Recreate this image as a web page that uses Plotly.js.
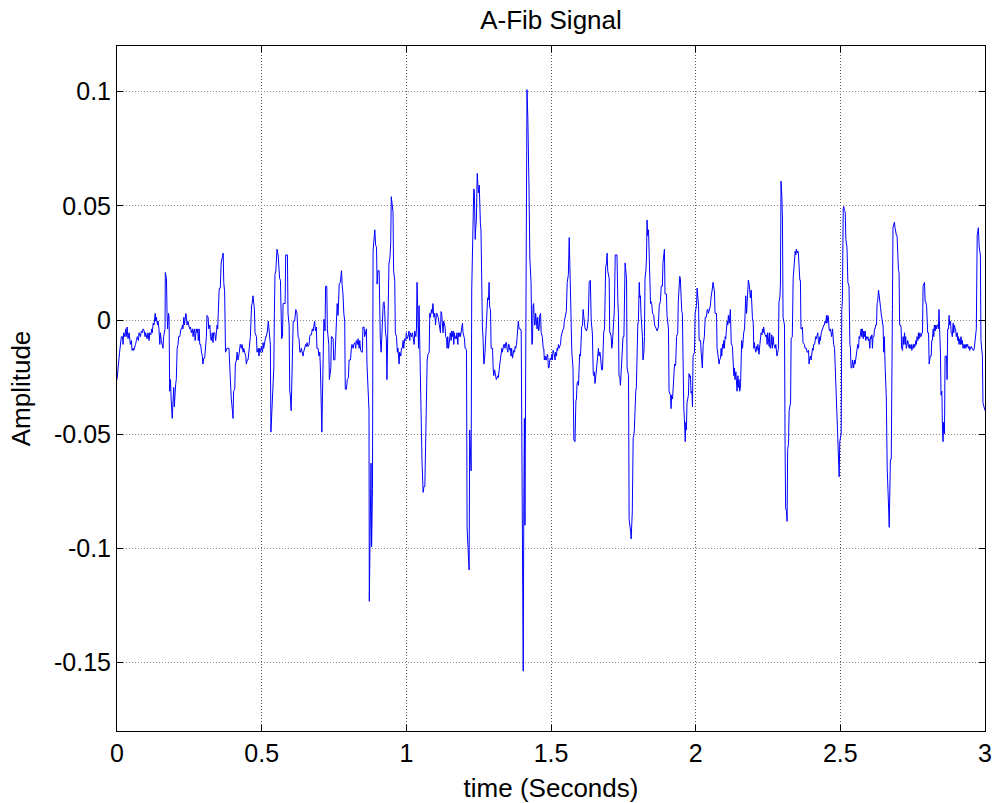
<!DOCTYPE html>
<html>
<head>
<meta charset="utf-8">
<script src="https://cdn.plot.ly/plotly-3.0.1.min.js"></script>
<style>html,body{margin:0;padding:0;background:#fff;}#chart{width:997px;height:803px;}</style>
</head>
<body>
<div id="chart"></div>
<script>
// Time samples (seconds)
const timeSec = [
0.000,0.007,0.009,0.015,0.019,0.021,0.023,0.027,0.030,0.032,0.035,0.038,0.042,0.046,0.050,0.052,0.056,0.058,0.061,0.064,
0.067,0.070,0.074,0.076,0.081,0.084,0.088,0.090,0.094,0.097,0.099,0.104,0.107,0.111,0.113,0.117,0.120,0.122,0.125,0.128,
0.132,0.134,0.136,0.140,0.142,0.145,0.148,0.150,0.153,0.157,0.159,0.161,0.164,0.166,0.167,0.171,0.173,0.175,0.178,0.180,
0.182,0.185,0.187,0.189,0.191,0.194,0.196,0.198,0.201,0.203,0.205,0.208,0.211,0.213,0.217,0.219,0.221,0.224,0.226,0.228,
0.231,0.233,0.235,0.238,0.240,0.242,0.245,0.247,0.249,0.251,0.254,0.257,0.261,0.263,0.265,0.268,0.270,0.272,0.274,0.277,
0.279,0.281,0.284,0.286,0.289,0.292,0.295,0.297,0.300,0.303,0.306,0.309,0.311,0.315,0.317,0.321,0.323,0.326,0.329,0.332,
0.334,0.338,0.341,0.344,0.346,0.348,0.350,0.353,0.355,0.357,0.360,0.362,
0.367,0.369,0.372,0.375,0.378,0.380,0.384,0.387,0.390,0.392,0.395,0.399,0.401,0.403,0.407,0.409,0.413,0.415,0.418,0.421,
0.424,0.426,0.430,0.432,0.436,0.438,0.441,0.445,0.447,0.450,0.453,0.456,0.459,0.461,0.465,0.467,0.470,0.473,0.475,0.477,
0.479,0.482,0.484,0.488,0.491,0.493,0.496,0.499,0.503,0.505,0.507,0.511,0.514,0.516,0.520,0.523,0.526,0.528,0.530,0.532,
0.535,0.537,0.539,0.542,0.544,0.546,0.549,0.551,0.553,0.557,0.560,0.562,0.565,0.567,0.569,0.572,0.574,0.577,0.581,0.583,
0.585,0.589,0.591,0.595,0.597,0.599,0.602,0.604,0.606,0.609,0.611,0.614,0.618,0.620,0.622,0.626,0.629,0.632,0.634,0.637,
0.641,0.643,0.645,0.649,0.652,0.655,0.657,0.660,0.664,0.666,0.668,0.672,0.675,0.678,0.680,0.683,0.686,0.689,0.691,0.695,
0.698,0.701,0.703,0.705,0.708,0.710,0.712,0.715,0.717,0.719,0.721,0.725,0.727,0.730,0.732,0.734,0.736,0.739,0.741,0.743,
0.747,0.749,
0.753,0.755,0.758,0.761,0.764,0.768,0.772,0.776,0.778,0.781,0.784,0.787,0.789,0.793,0.796,0.800,0.802,0.807,0.810,0.812,
0.816,0.818,0.822,0.825,0.827,0.831,0.833,0.837,0.839,0.842,0.846,0.848,0.850,0.854,0.856,0.859,0.862,0.864,0.868,0.871,
0.872,0.876,0.878,0.880,0.883,0.885,0.887,0.891,0.894,0.897,0.899,0.902,0.906,0.908,0.910,0.913,0.915,0.917,0.920,0.923,
0.925,0.928,0.931,0.933,0.936,0.938,0.940,0.943,0.946,0.948,0.952,0.954,0.956,0.960,0.962,0.966,0.969,0.971,0.975,0.977,
0.981,0.983,0.986,0.989,0.991,0.994,0.998,1.000,1.003,1.006,1.009,1.012,1.014,1.018,1.021,1.023,1.027,1.029,1.033,1.035,
1.037,1.039,1.042,1.044,1.046,1.049,1.051,1.054,1.058,1.061,1.064,1.066,1.069,1.072,1.075,1.079,1.081,1.083,1.087,1.089,
1.092,1.095,1.098,1.101,1.104,1.106,1.110,1.112,1.115,1.118,1.120,1.122,1.125,1.127,1.129,
1.134,1.136,1.139,1.141,1.143,1.146,1.148,1.150,1.152,1.155,1.157,1.159,1.162,1.164,1.166,1.169,1.171,1.173,1.175,1.178,
1.180,1.182,1.185,1.187,1.189,1.192,1.194,1.196,1.199,1.201,1.203,1.205,1.208,1.210,1.213,1.217,1.219,1.222,1.224,1.226,
1.228,1.231,1.233,1.235,1.238,1.240,1.242,1.245,1.247,1.249,1.252,1.254,1.256,1.258,1.261,1.263,1.265,1.268,1.270,1.272,
1.275,1.277,1.279,1.281,1.284,1.286,1.288,1.291,1.293,1.295,1.298,1.300,1.302,1.305,1.307,1.309,1.311,1.314,1.316,1.318,
1.321,1.323,1.325,1.328,1.330,1.332,1.334,1.337,1.339,1.341,1.344,1.346,1.348,1.351,1.353,1.355,1.358,1.360,1.362,1.364,
1.367,1.369,1.371,1.374,1.376,1.378,1.381,1.383,1.385,1.387,1.390,1.392,1.394,1.397,1.399,1.401,1.404,1.406,1.408,1.410,
1.413,1.415,1.417,1.420,1.422,1.424,1.427,1.429,1.431,1.434,1.436,1.438,1.440,1.443,1.445,1.447,1.450,1.452,1.454,1.457,
1.459,1.461,1.464,1.466,1.468,1.470,1.473,1.475,1.477,1.480,1.482,1.484,1.487,1.489,1.491,1.493,1.496,1.498,1.500,1.503,
1.505,1.507,1.510,
1.514,1.516,1.519,1.521,1.523,1.526,1.528,1.530,1.533,1.535,1.537,1.540,1.542,1.544,1.546,1.549,1.551,1.553,1.556,1.558,
1.560,1.563,1.565,1.567,1.569,1.572,1.574,1.576,1.579,1.581,1.583,1.586,1.588,1.590,1.593,1.595,1.597,1.599,1.602,1.604,
1.606,1.609,1.611,1.613,1.616,1.618,1.620,1.622,1.625,1.627,1.629,1.632,1.634,1.636,1.639,1.641,1.643,1.646,1.648,1.650,
1.652,1.655,1.657,1.659,1.662,1.664,1.666,1.669,1.671,1.673,1.675,1.678,1.680,1.682,1.685,1.687,1.689,1.692,1.694,1.696,
1.699,1.701,1.703,1.705,1.708,1.710,1.712,1.715,1.717,1.719,1.722,1.724,1.726,1.728,1.731,1.733,1.735,1.738,1.740,1.742,
1.745,1.747,1.749,1.752,1.754,1.756,1.758,1.761,1.763,1.765,1.768,1.770,1.772,1.775,1.777,1.779,1.781,1.784,1.786,1.788,
1.791,1.793,1.795,1.798,1.800,1.802,1.805,1.807,1.809,1.811,1.814,1.816,1.818,1.821,1.823,1.825,1.828,1.830,1.832,1.834,
1.837,1.839,1.841,1.844,1.846,1.848,1.851,1.853,1.855,1.858,1.860,1.862,1.864,1.867,1.869,1.871,1.874,1.876,1.878,1.881,
1.883,1.885,1.887,1.890,
1.892,1.894,1.897,1.899,1.901,1.904,1.906,1.908,1.910,1.913,1.915,1.917,1.920,1.922,1.924,1.927,1.929,1.931,1.934,1.936,
1.938,1.940,1.943,1.945,1.947,1.950,1.952,1.954,1.957,1.959,1.961,1.964,1.966,1.968,1.970,1.973,1.975,1.977,1.980,1.982,
1.984,1.987,1.989,1.991,1.993,1.996,1.998,2.000,2.003,2.005,2.007,2.010,2.012,2.014,2.017,2.019,2.021,2.023,2.026,2.028,
2.030,2.033,2.035,2.037,2.040,2.042,2.044,2.046,2.049,2.051,2.053,2.056,2.058,2.060,2.063,2.065,2.067,2.070,2.072,2.074,
2.076,2.079,2.081,2.083,2.086,2.088,2.090,2.093,2.095,2.097,2.099,2.102,2.104,2.106,2.109,2.111,2.113,2.116,2.118,2.120,
2.123,2.125,2.127,2.129,2.132,2.134,2.136,2.139,2.141,2.143,2.146,2.148,2.150,2.152,2.155,2.157,2.159,2.162,2.164,2.166,
2.169,2.171,2.173,2.176,2.178,2.180,2.182,2.185,2.187,2.189,2.192,2.194,2.196,2.199,2.201,2.203,2.205,2.208,2.210,2.212,
2.215,2.217,2.219,2.222,2.224,2.226,2.229,2.231,2.233,2.235,2.238,2.240,2.242,2.245,2.247,2.249,2.252,2.254,2.256,2.258,
2.261,2.263,2.265,2.268,2.270,
2.275,2.277,2.279,2.281,2.284,2.286,2.288,2.291,2.293,2.295,2.298,2.300,2.302,2.305,2.307,2.309,2.311,2.314,2.316,2.318,
2.321,2.323,2.325,2.328,2.330,2.332,2.334,2.337,2.339,2.341,2.344,2.346,2.348,2.351,2.353,2.355,2.358,2.360,2.362,2.364,
2.367,2.369,2.371,2.374,2.376,2.378,2.381,2.383,2.385,2.387,2.390,2.392,2.394,2.397,2.399,2.401,2.404,2.406,2.408,2.411,
2.413,2.415,2.417,2.420,2.422,2.424,2.427,2.429,2.431,2.434,2.436,2.438,2.440,2.443,2.445,2.447,2.450,2.452,2.454,2.457,
2.459,2.461,2.464,2.466,2.468,2.470,2.473,2.475,2.477,2.480,2.482,2.484,2.487,2.489,2.491,2.493,2.496,2.498,2.500,2.503,
2.505,2.507,2.510,2.512,2.514,2.517,2.519,2.521,2.523,2.526,2.528,2.530,2.533,2.535,2.537,2.540,2.542,2.544,2.546,2.549,
2.551,2.553,2.556,2.558,2.560,2.563,2.565,2.567,2.570,2.572,2.574,2.576,2.579,2.581,2.583,2.586,2.588,2.590,2.593,2.595,
2.597,2.599,2.602,2.604,2.606,2.609,2.611,2.613,2.616,2.618,2.620,2.622,2.625,2.627,2.629,2.632,2.634,2.636,2.639,2.641,
2.643,2.646,2.648,2.650,
2.652,2.655,2.657,2.659,2.662,2.664,2.666,2.669,2.671,2.673,2.676,2.678,2.680,2.682,2.685,2.687,2.689,2.692,2.694,2.696,
2.699,2.701,2.703,2.705,2.708,2.710,2.712,2.715,2.717,2.719,2.722,2.724,2.726,2.728,2.731,2.733,2.735,2.738,2.740,2.742,
2.745,2.747,2.749,2.752,2.754,2.756,2.758,2.761,2.763,2.765,2.768,2.770,2.772,2.775,2.777,2.779,2.782,2.784,2.786,2.788,
2.791,2.793,2.795,2.798,2.800,2.802,2.805,2.807,2.809,2.811,2.814,2.816,2.818,2.821,2.823,2.825,2.828,2.830,2.832,2.834,
2.837,2.839,2.841,2.844,2.846,2.848,2.851,2.853,2.855,2.857,2.860,2.862,2.864,2.867,2.869,2.871,2.874,2.876,2.878,2.881,
2.883,2.885,2.887,2.890,2.892,2.894,2.897,2.899,2.901,2.904,2.906,2.908,2.910,2.913,2.915,2.917,2.920,2.922,2.924,2.927,
2.929,2.931,2.934,2.936,2.938,2.940,2.943,2.945,2.947,2.950,2.952,2.954,2.957,2.959,2.961,2.963,2.966,2.968,2.970,2.973,
2.975,2.977,2.980,2.982,2.984,2.986,2.989,2.991,2.993,2.996,2.998,3.000
];

// Amplitude values
const amplitude = [
-0.0261,-0.0141,-0.0141,-0.0073,-0.0073,-0.0107,-0.0056,-0.0073,-0.0039,-0.0073,-0.0031,-0.0082,-0.0056,-0.0107,-0.0090,-0.0133,-0.0124,-0.0133,-0.0124,-0.0107,
-0.0090,-0.0073,-0.0090,-0.0056,-0.0073,-0.0048,-0.0056,-0.0039,-0.0048,-0.0073,-0.0056,-0.0082,-0.0056,-0.0090,-0.0056,-0.0065,-0.0039,-0.0056,-0.0014,-0.0022,
0.0029,-0.0005,0.0012,-0.0022,-0.0005,-0.0039,-0.0107,-0.0056,-0.0090,-0.0107,-0.0124,-0.0073,-0.0048,-0.0039,0.0208,0.0182,0.0029,-0.0039,0.0029,0.0012,
-0.0312,-0.0261,-0.0346,-0.0397,-0.0431,-0.0346,-0.0295,-0.0380,-0.0295,-0.0278,-0.0261,-0.0124,-0.0107,-0.0073,-0.0073,-0.0056,-0.0039,-0.0039,-0.0022,-0.0039,
0.0012,-0.0022,-0.0005,0.0029,0.0012,-0.0022,-0.0005,-0.0022,-0.0022,-0.0039,-0.0031,-0.0056,-0.0039,-0.0073,-0.0048,-0.0039,-0.0090,-0.0039,-0.0039,-0.0056,
-0.0039,-0.0090,-0.0039,-0.0107,-0.0107,-0.0141,-0.0158,-0.0193,-0.0167,-0.0167,-0.0107,-0.0073,0.0020,0.0012,-0.0039,-0.0022,-0.0073,-0.0090,-0.0056,-0.0099,
-0.0056,-0.0056,-0.0090,-0.0039,-0.0022,-0.0039,0.0097,0.0131,0.0140,0.0140,0.0250,0.0259,
0.0293,0.0165,0.0123,-0.0141,-0.0133,-0.0124,-0.0124,-0.0124,-0.0210,-0.0278,-0.0346,-0.0397,-0.0431,-0.0312,-0.0303,-0.0193,-0.0175,-0.0141,-0.0175,-0.0158,
-0.0124,-0.0107,-0.0124,-0.0107,-0.0141,-0.0124,-0.0141,-0.0158,-0.0193,-0.0175,-0.0175,-0.0124,-0.0107,-0.0073,0.0063,0.0072,0.0106,0.0063,0.0046,-0.0056,
-0.0065,-0.0073,-0.0141,-0.0124,-0.0158,-0.0124,-0.0141,-0.0116,-0.0141,-0.0099,-0.0124,-0.0090,-0.0073,-0.0073,-0.0048,-0.0005,-0.0048,-0.0073,-0.0107,-0.0491,
-0.0397,-0.0312,-0.0227,-0.0210,0.0029,0.0199,0.0216,0.0250,0.0310,0.0285,0.0191,0.0182,0.0174,-0.0082,-0.0082,-0.0073,0.0072,0.0072,0.0072,0.0285,
0.0285,0.0285,0.0029,-0.0022,-0.0312,-0.0329,-0.0397,-0.0227,-0.0210,-0.0005,-0.0005,-0.0005,0.0046,0.0037,0.0029,-0.0073,-0.0082,-0.0141,-0.0141,-0.0124,
-0.0141,-0.0158,-0.0141,-0.0124,-0.0107,-0.0116,-0.0099,-0.0116,-0.0107,-0.0073,-0.0065,-0.0065,-0.0039,-0.0048,-0.0031,-0.0005,-0.0048,-0.0031,-0.0124,-0.0124,
-0.0158,-0.0141,-0.0210,-0.0380,-0.0491,-0.0346,-0.0158,0.0003,-0.0014,-0.0048,0.0148,0.0148,-0.0039,-0.0107,-0.0107,-0.0261,-0.0244,-0.0210,-0.0073,-0.0073,
-0.0082,-0.0175,
-0.0175,-0.0090,-0.0056,0.0072,0.0020,0.0157,0.0165,0.0216,0.0157,0.0114,0.0029,-0.0005,-0.0303,-0.0303,-0.0261,-0.0252,-0.0175,-0.0175,-0.0124,-0.0107,
-0.0124,-0.0107,-0.0099,-0.0124,-0.0090,-0.0107,-0.0082,-0.0124,-0.0090,-0.0133,-0.0141,-0.0141,-0.0031,-0.0031,-0.0073,-0.0056,-0.0039,-0.0193,-0.0312,-0.0397,
-0.1232,-0.0823,-0.0627,-0.0993,-0.0738,0.0302,0.0336,0.0395,0.0327,0.0319,0.0157,0.0216,0.0216,-0.0056,-0.0082,-0.0141,-0.0056,-0.0056,0.0072,0.0080,
0.0046,-0.0056,-0.0082,-0.0261,0.0012,0.0037,0.0250,0.0267,0.0336,0.0540,0.0506,0.0472,0.0216,0.0174,-0.0056,-0.0073,-0.0141,-0.0124,-0.0193,-0.0141,
-0.0158,-0.0124,-0.0124,-0.0090,-0.0124,-0.0082,-0.0090,-0.0056,-0.0082,-0.0073,-0.0048,-0.0090,-0.0056,-0.0073,-0.0056,-0.0073,-0.0107,-0.0048,-0.0073,-0.0039,
0.0165,0.0063,-0.0124,0.0063,-0.0107,-0.0210,-0.0567,-0.0610,-0.0755,-0.0729,-0.0729,-0.0584,-0.0499,-0.0175,-0.0150,-0.0141,0.0029,0.0012,0.0046,0.0029,
0.0072,0.0012,0.0029,-0.0022,0.0029,0.0029,0.0012,-0.0005,-0.0022,-0.0056,0.0037,0.0029,-0.0022,-0.0056,-0.0005,
-0.0031,-0.0073,-0.0082,-0.0124,-0.0073,-0.0124,-0.0107,-0.0073,-0.0056,-0.0090,-0.0048,-0.0073,-0.0048,-0.0107,-0.0056,-0.0082,-0.0073,-0.0082,-0.0056,-0.0107,
-0.0056,-0.0073,-0.0056,-0.0073,-0.0056,-0.0039,-0.0014,-0.0056,-0.0073,-0.0082,-0.0124,-0.0124,-0.0133,-0.0908,-0.0993,-0.1095,-0.0482,-0.0567,-0.0661,0.0131,
0.0285,0.0574,0.0574,0.0566,0.0353,0.0404,0.0438,0.0642,0.0591,0.0557,0.0591,0.0438,0.0421,0.0395,-0.0005,-0.0039,-0.0073,-0.0193,-0.0175,-0.0141,
-0.0039,-0.0022,0.0046,0.0097,0.0089,0.0165,0.0055,0.0046,-0.0124,-0.0124,-0.0124,-0.0210,-0.0244,-0.0218,-0.0235,-0.0252,-0.0261,-0.0252,-0.0244,-0.0252,
-0.0193,-0.0193,-0.0175,-0.0124,-0.0124,-0.0141,-0.0124,-0.0107,-0.0107,-0.0124,-0.0099,-0.0099,-0.0124,-0.0141,-0.0107,-0.0107,-0.0133,-0.0124,-0.0158,-0.0124,
-0.0167,-0.0141,-0.0133,-0.0141,-0.0116,-0.0124,-0.0107,-0.0073,-0.0022,-0.0005,-0.0039,-0.0039,-0.0039,-0.0048,-0.0431,-0.0993,-0.1538,-0.0823,-0.0431,-0.0899,
-0.0141,0.0540,0.1009,0.0881,0.0779,0.0574,0.0267,0.0216,0.0165,-0.0107,-0.0099,0.0063,0.0072,-0.0022,-0.0022,0.0029,-0.0039,-0.0039,0.0012,-0.0048,
-0.0039,0.0020,0.0029,-0.0056,-0.0073,-0.0073,-0.0124,-0.0124,-0.0175,-0.0158,-0.0175,-0.0175,-0.0150,-0.0158,-0.0210,-0.0210,-0.0175,-0.0167,-0.0175,-0.0150,
-0.0175,-0.0133,-0.0141,
-0.0175,-0.0141,-0.0158,-0.0124,-0.0133,-0.0107,-0.0124,-0.0116,-0.0107,-0.0073,-0.0056,-0.0048,-0.0039,-0.0039,-0.0005,0.0020,0.0029,0.0037,0.0165,0.0182,
0.0199,0.0361,0.0216,0.0157,0.0114,-0.0141,-0.0175,-0.0210,-0.0525,-0.0533,-0.0533,-0.0354,-0.0346,-0.0278,-0.0269,-0.0286,-0.0158,-0.0150,-0.0158,-0.0039,
-0.0031,-0.0022,0.0046,0.0020,-0.0031,-0.0039,-0.0039,-0.0048,-0.0039,-0.0022,0.0012,0.0165,0.0174,0.0174,-0.0005,-0.0022,-0.0056,-0.0235,-0.0244,-0.0227,
-0.0278,-0.0244,-0.0210,-0.0175,-0.0141,-0.0124,-0.0158,-0.0141,-0.0158,-0.0218,-0.0218,-0.0218,-0.0073,-0.0056,-0.0039,0.0216,0.0233,0.0250,0.0293,0.0216,
0.0199,0.0182,-0.0056,-0.0056,-0.0073,-0.0124,-0.0107,-0.0039,-0.0005,0.0046,0.0285,0.0285,0.0285,0.0285,0.0080,0.0029,-0.0244,-0.0252,-0.0286,-0.0227,
-0.0210,-0.0124,-0.0073,-0.0073,0.0148,0.0250,0.0225,0.0182,-0.0210,-0.0227,-0.0244,-0.0874,-0.0891,-0.0925,-0.0959,-0.0891,-0.0840,-0.0516,-0.0508,-0.0482,
-0.0346,-0.0312,-0.0295,-0.0039,-0.0022,-0.0005,0.0165,0.0097,0.0106,0.0029,-0.0022,-0.0073,-0.0175,-0.0141,-0.0073,0.0182,0.0216,0.0267,0.0438,0.0370,
0.0395,0.0267,0.0233,0.0072,0.0080,0.0072,0.0029,0.0020,0.0020,-0.0022,-0.0031,-0.0031,-0.0039,-0.0048,-0.0039,-0.0031,0.0063,0.0072,0.0080,0.0148,
0.0148,0.0148,0.0250,0.0302,
0.0310,0.0114,0.0114,0.0114,0.0020,-0.0005,-0.0039,-0.0312,-0.0320,-0.0329,-0.0388,-0.0329,-0.0346,-0.0295,-0.0278,-0.0193,-0.0201,-0.0193,-0.0073,-0.0056,
-0.0056,0.0080,0.0191,0.0191,0.0182,0.0037,0.0037,0.0029,-0.0363,-0.0388,-0.0431,-0.0533,-0.0448,-0.0482,-0.0363,-0.0346,-0.0329,-0.0235,-0.0252,-0.0244,
-0.0320,-0.0312,-0.0380,-0.0158,-0.0150,-0.0141,0.0029,0.0046,0.0063,0.0140,0.0080,0.0063,-0.0090,-0.0090,-0.0090,-0.0141,-0.0167,-0.0210,-0.0107,-0.0090,
-0.0073,0.0012,0.0012,0.0012,0.0046,0.0046,0.0029,0.0037,0.0046,0.0063,0.0097,0.0114,0.0140,0.0165,0.0140,0.0123,0.0029,0.0029,0.0029,-0.0124,
-0.0141,-0.0158,-0.0193,-0.0175,-0.0167,-0.0124,-0.0158,-0.0107,-0.0124,-0.0090,-0.0124,-0.0073,-0.0082,-0.0048,-0.0005,-0.0022,0.0020,-0.0014,0.0029,0.0046,
-0.0107,-0.0107,-0.0116,-0.0210,-0.0244,-0.0210,-0.0261,-0.0227,-0.0278,-0.0312,-0.0244,-0.0295,-0.0261,-0.0312,-0.0295,-0.0141,-0.0090,-0.0124,-0.0073,-0.0056,
-0.0039,0.0106,0.0106,0.0029,0.0097,0.0148,0.0174,0.0157,0.0131,0.0097,0.0131,0.0037,0.0012,-0.0014,-0.0124,-0.0099,-0.0124,-0.0141,-0.0116,-0.0133,
-0.0107,-0.0141,-0.0150,-0.0107,-0.0090,-0.0056,-0.0065,-0.0039,-0.0056,-0.0031,-0.0056,-0.0065,-0.0073,-0.0065,-0.0107,-0.0056,-0.0107,-0.0116,-0.0056,-0.0124,
-0.0107,-0.0065,-0.0124,-0.0073,-0.0107,
-0.0124,-0.0107,-0.0141,-0.0158,-0.0141,-0.0124,0.0080,0.0097,0.0157,0.0608,0.0540,0.0438,0.0012,-0.0005,-0.0022,-0.0550,-0.0823,-0.0840,-0.0882,-0.0567,
-0.0542,-0.0397,-0.0388,-0.0363,-0.0082,-0.0073,-0.0073,0.0182,0.0216,0.0259,0.0302,0.0285,0.0310,0.0293,0.0302,0.0293,0.0182,0.0174,0.0174,-0.0039,
-0.0039,-0.0031,-0.0099,-0.0107,-0.0107,-0.0124,-0.0124,-0.0124,-0.0141,-0.0141,-0.0133,-0.0193,-0.0167,-0.0158,-0.0175,-0.0141,-0.0124,-0.0133,-0.0107,-0.0107,
-0.0090,-0.0073,-0.0082,-0.0056,-0.0056,-0.0090,-0.0107,-0.0073,-0.0090,-0.0056,-0.0048,-0.0039,-0.0039,-0.0022,-0.0022,-0.0005,-0.0014,0.0020,-0.0014,0.0020,
0.0012,-0.0039,-0.0048,-0.0039,-0.0056,-0.0073,-0.0039,-0.0082,-0.0107,-0.0124,-0.0193,-0.0269,-0.0295,-0.0397,-0.0499,-0.0550,-0.0687,-0.0533,-0.0516,-0.0499,
0.0046,0.0080,0.0489,0.0497,0.0480,0.0472,0.0353,0.0336,0.0319,0.0165,0.0157,0.0148,-0.0107,-0.0124,-0.0210,-0.0210,-0.0175,-0.0193,-0.0210,-0.0175,
-0.0193,-0.0175,-0.0141,-0.0141,-0.0107,-0.0124,-0.0073,-0.0082,-0.0056,-0.0039,-0.0073,-0.0039,-0.0082,-0.0048,-0.0073,-0.0048,-0.0090,-0.0073,-0.0082,-0.0073,
-0.0090,-0.0082,-0.0124,-0.0073,-0.0082,-0.0065,-0.0124,-0.0073,-0.0073,-0.0039,-0.0039,-0.0022,-0.0022,0.0072,0.0080,0.0131,0.0114,0.0097,0.0055,0.0029,
0.0003,-0.0014,-0.0031,-0.0141,
-0.0073,-0.0210,-0.0295,-0.0346,-0.0652,-0.0704,-0.0789,-0.0908,-0.0618,-0.0610,-0.0610,-0.0005,0.0046,0.0404,0.0421,0.0429,0.0404,0.0370,0.0370,0.0370,
0.0233,0.0216,0.0208,-0.0022,-0.0022,-0.0031,-0.0124,-0.0133,-0.0073,-0.0107,-0.0056,-0.0107,-0.0073,-0.0124,-0.0107,-0.0090,-0.0107,-0.0124,-0.0107,-0.0124,
-0.0107,-0.0133,-0.0124,-0.0107,-0.0124,-0.0107,-0.0116,-0.0090,-0.0107,-0.0073,-0.0090,-0.0056,-0.0082,-0.0056,-0.0073,-0.0073,-0.0056,-0.0056,0.0148,0.0157,
0.0165,0.0080,0.0080,0.0063,-0.0048,-0.0056,-0.0056,-0.0193,-0.0175,-0.0158,-0.0158,-0.0090,-0.0090,-0.0039,-0.0073,-0.0022,-0.0048,-0.0022,-0.0039,-0.0022,
-0.0022,-0.0039,0.0046,-0.0073,-0.0141,-0.0329,-0.0312,-0.0482,-0.0533,-0.0448,-0.0499,-0.0158,-0.0158,-0.0158,-0.0261,-0.0039,-0.0039,0.0020,-0.0022,-0.0005,
-0.0056,-0.0056,-0.0073,-0.0014,-0.0056,-0.0022,-0.0039,-0.0048,-0.0073,-0.0056,-0.0090,-0.0073,-0.0107,-0.0082,-0.0107,-0.0073,-0.0107,-0.0090,-0.0124,-0.0107,
-0.0124,-0.0107,-0.0124,-0.0107,-0.0116,-0.0107,-0.0124,-0.0116,-0.0133,-0.0124,-0.0116,-0.0124,-0.0124,-0.0133,-0.0133,-0.0124,-0.0073,-0.0039,-0.0039,0.0370,
0.0395,0.0404,0.0319,0.0302,0.0285,-0.0090,-0.0124,-0.0158,-0.0363,-0.0380,-0.0397,-0.0397
];

const yTickVals = [-0.15, -0.1, -0.05, 0, 0.05, 0.1];
const yTickText = ['-0.15', '-0.1', '-0.05', '0', '0.05', '0.1'];
const xTickVals = [0, 0.5, 1, 1.5, 2, 2.5, 3];
const xTickText = ['0', '0.5', '1', '1.5', '2', '2.5', '3'];

const FONT = 'Liberation Sans, Arial, Helvetica, sans-serif';

const trace = {
  x: timeSec,
  y: amplitude,
  type: 'scatter',
  mode: 'lines',
  line: {color: 'rgb(0,0,255)', width: 1},
  hoverinfo: 'x+y'
};

const axisCommon = {
  showline: true,
  linecolor: '#000',
  linewidth: 1,
  mirror: 'ticks',
  ticks: 'inside',
  ticklen: 6,
  tickcolor: '#000',
  tickwidth: 1,
  showgrid: true,
  gridwidth: 1,
  zeroline: false,
  tickmode: 'array',
  tickfont: {family: FONT, size: 25, color: '#000'},
  automargin: false
};

const layout = {
  width: 997,
  height: 803,
  paper_bgcolor: '#fff',
  plot_bgcolor: '#fff',
  showlegend: false,
  margin: {l: 117, r: 12, t: 46, b: 72, pad: 0},
  font: {family: FONT, color: '#000'},
  title: {
    text: 'A-Fib Signal',
    font: {family: FONT, size: 26, color: '#000'},
    x: 0.5, xref: 'paper', xanchor: 'center',
    y: 1 - 20 / 803, yref: 'container', yanchor: 'middle'
  },
  xaxis: Object.assign({}, axisCommon, {
    range: [0, 3],
    tickvals: xTickVals,
    ticktext: xTickText,
    gridcolor: '#555',
    griddash: '1px,2px',
    title: {text: 'time (Seconds)', font: {family: FONT, size: 26, color: '#000'}, standoff: 18}
  }),
  yaxis: Object.assign({}, axisCommon, {
    range: [-0.18, 0.12],
    tickvals: yTickVals,
    ticktext: yTickText,
    gridcolor: '#8a8a8a',
    griddash: '1px,2px',
    title: {text: 'Amplitude', font: {family: FONT, size: 26, color: '#000'}, standoff: 15}
  })
};

Plotly.newPlot('chart', [trace], layout, {displayModeBar: false, staticPlot: true});
</script>
</body>
</html>
